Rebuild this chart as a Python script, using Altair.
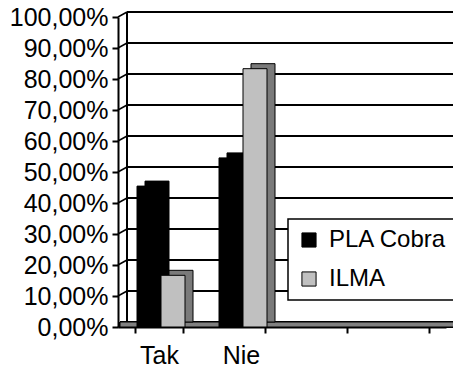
import altair as alt
import pandas as pd

categories = ["Tak", "Nie"]
x_slots = ["Tak", "Nie", " ", "  "]
series = ["PLA Cobra", "ILMA"]
cobra = [0.4545, 0.5455]
ilma = [0.1667, 0.8333]
yticks = [0.0, 0.1, 0.2, 0.3, 0.4, 0.5, 0.6, 0.7, 0.8, 0.9, 1.0]
front_colors = ["#000000", "#c0c0c0"]
side_colors = ["#000000", "#7a7a7a"]

rows = []
for c, a, b in zip(categories, cobra, ilma):
    rows.append({"cat": c, "series": "PLA Cobra", "value": a})
    rows.append({"cat": c, "series": "ILMA", "value": b})
df = pd.DataFrame(rows)
grid_df = pd.DataFrame({"v": yticks})

W, H = 328, 310
DX, DY = 9, -5
BW = 24
FONT = "Liberation Sans"
FS = 25
LFS = 24

xscale = alt.Scale(domain=x_slots, paddingInner=0.42, paddingOuter=0.21)
yscale = alt.Scale(domain=[0, 1])

yaxis = alt.Axis(values=yticks, labelExpr="replace(format(datum.value, '.2%'), '.', ',')",
                 title=None, grid=False, labelPadding=4, labelOverlap=False)

grid = alt.Chart(grid_df).mark_rule(yOffset=DY, color="black", strokeWidth=2).encode(
    x=alt.value(DX), x2=alt.value(W + DX + 20),
    y=alt.Y("v:Q", scale=yscale, axis=yaxis),
)
diag = alt.Chart(grid_df).mark_rule(y2Offset=DY, color="black", strokeWidth=1.5).encode(
    x=alt.value(0), x2=alt.value(DX),
    y=alt.Y("v:Q", scale=yscale, axis=yaxis), y2="v:Q",
)
wall = alt.Chart(grid_df).mark_rule(color="black", strokeWidth=2).encode(
    x=alt.value(DX), y=alt.value(DY), y2=alt.value(H + DY),
)
floor = alt.Chart(grid_df).mark_rect(fill="#808080", stroke="black", strokeWidth=1).encode(
    x=alt.value(2), x2=alt.value(W + DX + 20), y=alt.value(H + DY), y2=alt.value(H),
)

xaxis = alt.Axis(title=None, labelAngle=0, tickBand="extent", labelPadding=10)

legend = alt.Legend(title=None, orient="none", legendX=170, legendY=202,
                    symbolType="square", symbolSize=200,
                    symbolStrokeColor="black", symbolStrokeWidth=1,
                    labelFontSize=LFS, labelFont=FONT, labelColor="black",
                    rowPadding=15, padding=9, labelOffset=8,
                    strokeColor="black", fillColor="white")

layers = [grid, wall, diag, floor]
shifts = [-BW / 2 + 2, BW / 2 + 2]
for i, s in enumerate(series):
    sub = df[df["series"] == s]
    side = alt.Chart(sub).mark_bar(width=BW, xOffset=shifts[i] + DX - 1, yOffset=DY, y2Offset=DY,
                                   fill=side_colors[i], stroke="black", strokeWidth=1).encode(
        x=alt.X("cat:N", scale=xscale, axis=xaxis),
        y=alt.Y("value:Q", scale=yscale, axis=yaxis),
    )
    layers.append(side)
for i, s in enumerate(series):
    sub = df[df["series"] == s]
    front = alt.Chart(sub).mark_bar(width=BW, xOffset=shifts[i], stroke="black", strokeWidth=1).encode(
        x=alt.X("cat:N", scale=xscale, axis=xaxis),
        y=alt.Y("value:Q", scale=yscale, axis=yaxis),
        color=alt.Color("series:N", scale=alt.Scale(domain=series, range=front_colors), legend=legend),
    )
    layers.append(front)

chart = alt.layer(*layers).properties(
    width=W, height=H,
    autosize=alt.AutoSizeParams(type="none"),
    padding={"left": 118, "top": 17, "right": 7, "bottom": 44},
).configure_view(stroke=None).configure_legend(strokeWidth=1.5).configure_axis(
    labelFontSize=FS, labelFont=FONT, labelColor="black", domainColor="black",
    domainWidth=2, tickColor="black", tickSize=6, tickWidth=2,
)

chart.save("out.html", embed_options={"renderer": "svg", "actions": False})
